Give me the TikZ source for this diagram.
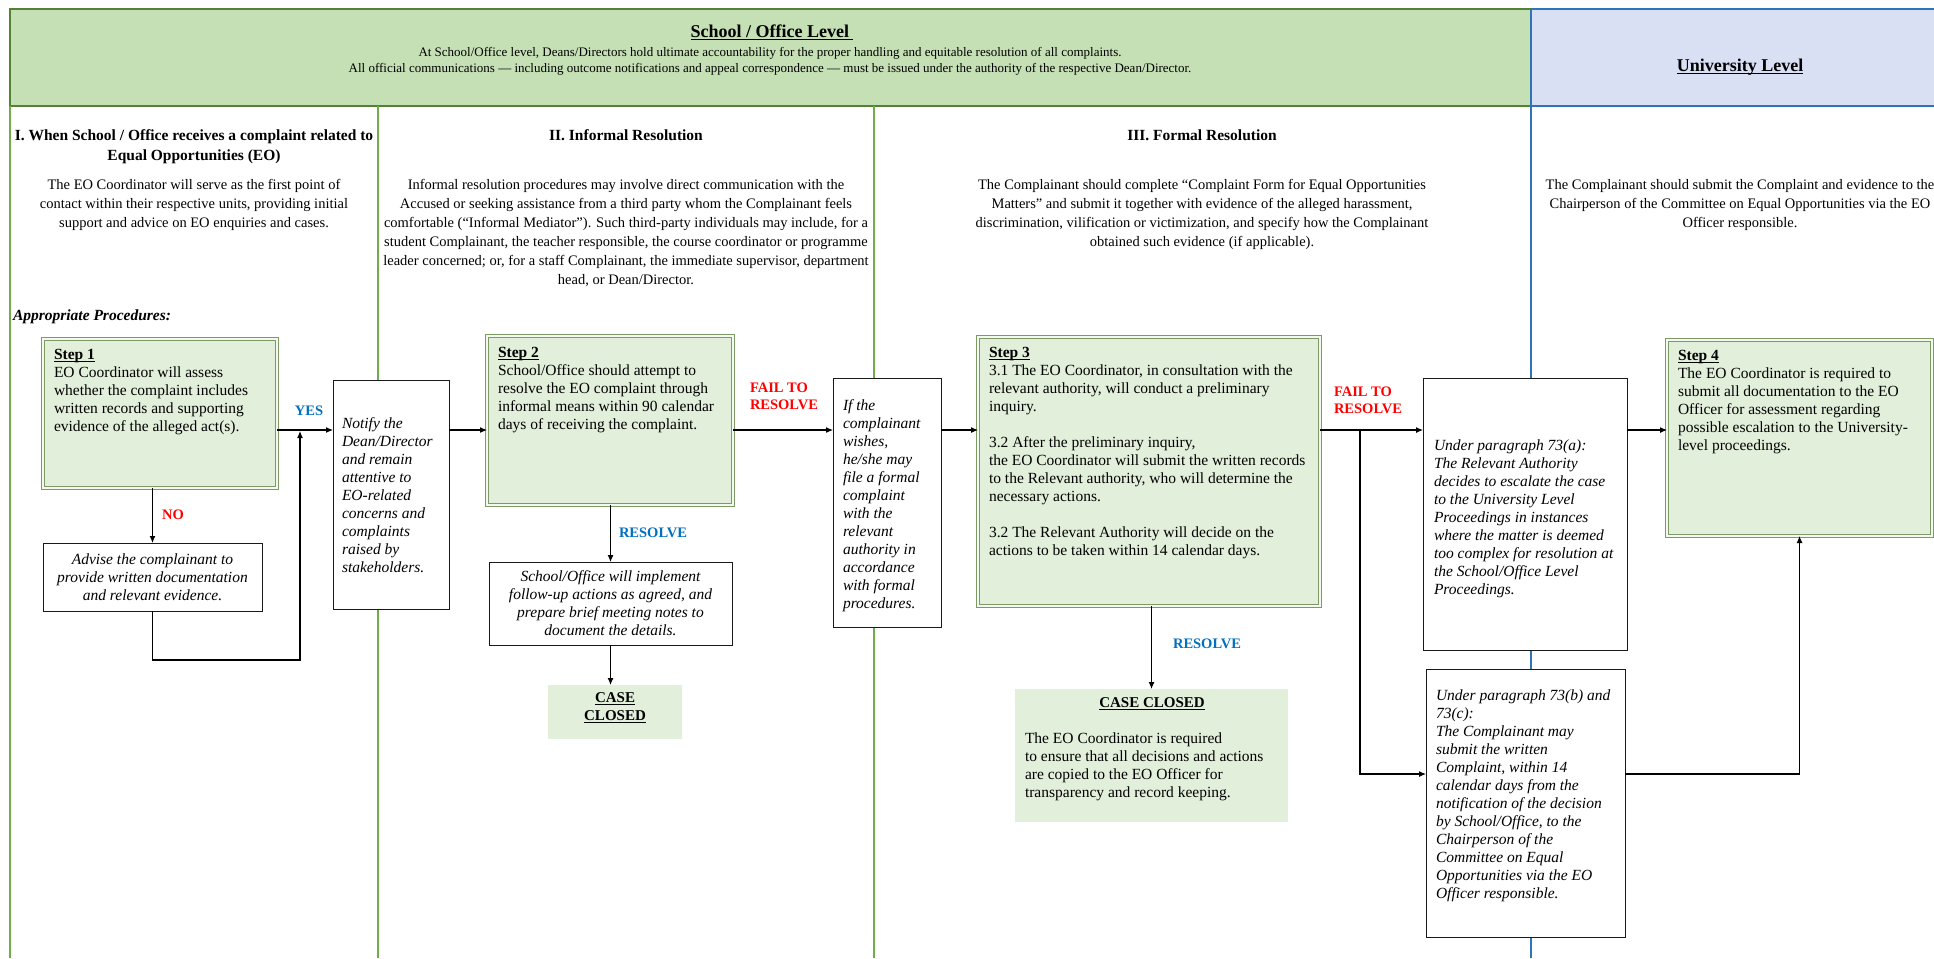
\documentclass[tikz,border=0pt]{standalone}
\usepackage{fontspec}
\setmainfont{Liberation Serif}
\usetikzlibrary{arrows.meta,calc}
\newcommand\myul[1]{\setbox0\hbox{#1}\rlap{\raisebox{-2.6pt}{\rule{\wd0}{1.1pt}}}\box0}
\definecolor{hdrgreen}{RGB}{197,224,180}
\definecolor{hdrblue}{RGB}{218,224,243}
\definecolor{colgreen}{RGB}{112,173,71}
\definecolor{hdrborder}{RGB}{84,130,53}
\definecolor{lineblue}{RGB}{46,117,182}
\definecolor{stepfill}{RGB}{226,239,218}
\definecolor{stepdraw}{RGB}{125,153,100}
\definecolor{labred}{RGB}{255,0,0}
\definecolor{labblue}{RGB}{0,112,192}
\begin{document}
\begin{tikzpicture}[x=1pt,y=-1pt,
  every node/.style={inner sep=0pt,outer sep=0pt},
  stepbox/.style={rectangle,anchor=north west,fill=stepfill,draw=stepdraw,double=stepfill!40!white,double distance=1.5pt,line width=1.1pt},
  plainbox/.style={rectangle,anchor=north west,fill=white,draw=black!90,line width=1pt},
  closedbox/.style={rectangle,anchor=north west,fill=stepfill},
  boxtxt/.style={font=\fontsize{15.5}{18}\selectfont,align=left,anchor=north west},
  itxt/.style={font=\fontsize{15.5}{18}\selectfont\itshape,align=left,anchor=north west},
  ictxt/.style={font=\fontsize{15.5}{18}\selectfont\itshape,align=center},
  desc/.style={font=\fontsize{14.5}{19}\selectfont,align=center,anchor=north},
  secthead/.style={font=\fontsize{15.5}{20}\selectfont\bfseries,align=center,anchor=north},
  bluelab/.style={font=\fontsize{14.5}{16.5}\selectfont\bfseries,text=labblue},
  redlab/.style={font=\fontsize{14.5}{16.5}\selectfont\bfseries,text=labred,align=left},
  conn/.style={draw=black,line width=1.1pt,-{Latex[length=7pt,width=6pt]}},
]
\useasboundingbox (0,0) rectangle (1934,958);
% ---------- header ----------
\fill[hdrgreen] (10,9) rectangle (1531,106);
\fill[hdrblue] (1531,9) rectangle (1934,106);
\draw[hdrborder,line width=1.5pt] (1531,9) -- (10,9) -- (10,106) -- (1531,106);
\draw[lineblue,line width=1.5pt] (1934,9) -- (1531,9) (1531,106) -- (1934,106);
% ---------- column lines ----------
\draw[colgreen,line width=1.2pt] (10,106) -- (10,958);
\draw[colgreen,line width=1.2pt] (378,106) -- (378,958);
\draw[colgreen,line width=1.2pt] (874,106) -- (874,958);
\draw[lineblue,line width=1.8pt] (1531,9) -- (1531,958);
% ---------- header texts ----------
\node[font=\fontsize{18}{20}\selectfont\bfseries] (htitle) at (772,32) {\myul{School / Office Level\ }};
\node[font=\fontsize{13}{16}\selectfont,align=center,anchor=north] (hsub) at (770,47)
  {At School/Office level, Deans/Directors hold ultimate accountability for the proper handling and equitable resolution of all complaints.\\
   All official communications — including outcome notifications and appeal correspondence — must be issued under the authority of the respective Dean/Director.};
\node[font=\fontsize{18}{20}\selectfont\bfseries] (utitle) at (1740,67) {\myul{University Level}};
% ---------- section headings and descriptions ----------
\node[secthead] (h1) at (194,130) {I. When School / Office receives a complaint related to\\Equal Opportunities (EO)};
\node[desc] (d1) at (194,179) {The EO Coordinator will serve as the first point of\\contact within their respective units, providing initial\\support and advice on EO enquiries and cases.};
\node[secthead] (h2) at (626,130) {II. Informal Resolution};
\node[desc] (d2) at (626,179) {Informal resolution procedures may involve direct communication with the\\Accused or seeking assistance from a third party whom the Complainant feels\\comfortable (“Informal Mediator”). Such third-party individuals may include, for a\\student Complainant, the teacher responsible, the course coordinator or programme\\leader concerned; or, for a staff Complainant, the immediate supervisor, department\\head, or Dean/Director.};
\node[secthead] (h3) at (1202,130) {III. Formal Resolution};
\node[desc] (d3) at (1202,179) {The Complainant should complete “Complaint Form for Equal Opportunities\\Matters” and submit it together with evidence of the alleged harassment,\\discrimination, vilification or victimization, and specify how the Complainant\\obtained such evidence (if applicable).};
\node[desc] (d4) at (1740,179) {The Complainant should submit the Complaint and evidence to the\\Chairperson of the Committee on Equal Opportunities via the EO\\Officer responsible.};
\node[font=\fontsize{15.5}{18}\selectfont\bfseries\itshape,anchor=west] (appr) at (13,317) {Appropriate Procedures:};
% ---------- boxes ----------
\node[stepbox,minimum width=234,minimum height=149] (s1) at (43,339) {};
\node[plainbox,minimum width=116,minimum height=229] (notify) at (333,380) {};
\node[plainbox,minimum width=219,minimum height=68] (advise) at (43,543) {};
\node[stepbox,minimum width=246,minimum height=169] (s2) at (487,336) {};
\node[plainbox,minimum width=243,minimum height=83] (impl) at (489,562) {};
\node[closedbox,minimum width=134,minimum height=54] (cc1) at (548,685) {};
\node[plainbox,minimum width=108,minimum height=249] (ifbox) at (833,378) {};
\node[stepbox,minimum width=342,minimum height=269] (s3) at (978,337) {};
\node[closedbox,minimum width=273,minimum height=133] (cc2) at (1015,689) {};
\node[plainbox,minimum width=204,minimum height=272] (p73a) at (1423,378) {};
\node[plainbox,minimum width=199,minimum height=268] (p73b) at (1426,669) {};
\node[stepbox,minimum width=265,minimum height=196] (s4) at (1667,340) {};
% ---------- box texts ----------
\node[boxtxt] (s1t) at ($(s1.north west)+(11,10)$) {\myul{\textbf{Step 1}}\\EO Coordinator will assess\\whether the complaint includes\\written records and supporting\\evidence of the alleged act(s).};
\node[itxt] (notifyt) at ($(notify.north west)+(9,38)$) {Notify the\\Dean/Director\\and remain\\attentive to\\EO-related\\concerns and\\complaints\\raised by\\stakeholders.};
\node[ictxt] (advt) at (advise.center) {Advise the complainant to\\provide written documentation\\and relevant evidence.};
\node[boxtxt] (s2t) at ($(s2.north west)+(11,11)$) {\myul{\textbf{Step 2}}\\School/Office should attempt to\\resolve the EO complaint through\\informal means within 90 calendar\\days of receiving the complaint.};
\node[ictxt] (implt) at (impl.center) {School/Office will implement\\follow-up actions as agreed, and\\prepare brief meeting notes to\\document the details.};
\node[font=\fontsize{15}{18}\selectfont\bfseries,align=center] (cc1t) at ($(cc1.center)+(0,-4)$) {\myul{CASE}\\\myul{CLOSED}};
\node[itxt] (ift) at ($(ifbox.north west)+(10,22)$) {If the\\complainant\\wishes,\\he/she may\\file a formal\\complaint\\with the\\relevant\\authority in\\accordance\\with formal\\procedures.};
\node[boxtxt] (s3t) at ($(s3.north west)+(11,10)$) {\myul{\textbf{Step 3}}\\3.1 The EO Coordinator, in consultation with the\\relevant authority, will conduct a preliminary\\inquiry.\\\mbox{}\\3.2 After the preliminary inquiry,\\the EO Coordinator will submit the written records\\to the Relevant authority, who will determine the\\necessary actions.\\\mbox{}\\3.2 The Relevant Authority will decide on the\\actions to be taken within 14 calendar days.};
\node[font=\fontsize{15}{18}\selectfont\bfseries] (cc2h) at (1152,704) {\myul{CASE CLOSED}};
\node[boxtxt] (cc2t) at ($(cc2.north west)+(10,44)$) {The EO Coordinator is required\\to ensure that all decisions and actions\\are copied to the EO Officer for\\transparency and record keeping.};
\node[itxt] (p73at) at ($(p73a.north west)+(11,62)$) {Under paragraph 73(a):\\The Relevant Authority\\decides to escalate the case\\to the University Level\\Proceedings in instances\\where the matter is deemed\\too complex for resolution at\\the School/Office Level\\Proceedings.};
\node[itxt] (p73bt) at ($(p73b.north west)+(10,21)$) {Under paragraph 73(b) and\\73(c):\\The Complainant may\\submit the written\\Complaint, within 14\\calendar days from the\\notification of the decision\\by School/Office, to the\\Chairperson of the\\Committee on Equal\\Opportunities via the EO\\Officer responsible.};
\node[boxtxt] (s4t) at ($(s4.north west)+(11,10)$) {\myul{\textbf{Step 4}}\\The EO Coordinator is required to\\submit all documentation to the EO\\Officer for assessment regarding\\possible escalation to the University-\\level proceedings.};
% ---------- helper coordinates ----------
\coordinate (row) at (0,430);
\coordinate (brow) at (0,774);
\coordinate (loopc) at (300,660);
\coordinate (yesj) at (300,431);
\coordinate (br) at (1360,430);
% ---------- connectors ----------
\draw[conn] (s1.east |- row) -- (notify.west |- row);
\draw[conn] (advise.north |- s1.south) -- (advise.north);
\draw[conn] (advise.south) |- (loopc) -- (yesj);
\draw[conn] (notify.east |- row) -- (s2.west |- row);
\draw[conn] (s2.east |- row) -- (ifbox.west |- row);
\draw[conn] (impl.north |- s2.south) -- (impl.north);
\draw[conn] (impl.south) -- (impl.south |- cc1.north);
\draw[conn] (ifbox.east |- row) -- (s3.west |- row);
\draw[conn] (s3.east |- row) -- (p73a.west |- row);
\draw[conn] (br) |- (p73b.west |- brow);
\draw[conn] (cc2.north |- s3.south) -- (cc2.north);
\draw[conn] (p73a.east |- row) -- (s4.west |- row);
\draw[conn] (p73b.east |- brow) -| (s4.south);
% ---------- labels ----------
\node[bluelab] (yes) at (309,411) {YES};
\node[redlab] (no) at (173,515) {NO};
\node[redlab,anchor=north west] (fail1) at (750,383) {FAIL TO\\RESOLVE};
\node[bluelab] (res1) at (653,533) {RESOLVE};
\node[redlab,anchor=north west] (fail2) at (1334,387) {FAIL TO\\RESOLVE};
\node[bluelab] (res2) at (1207,644) {RESOLVE};
\end{tikzpicture}
\end{document}
